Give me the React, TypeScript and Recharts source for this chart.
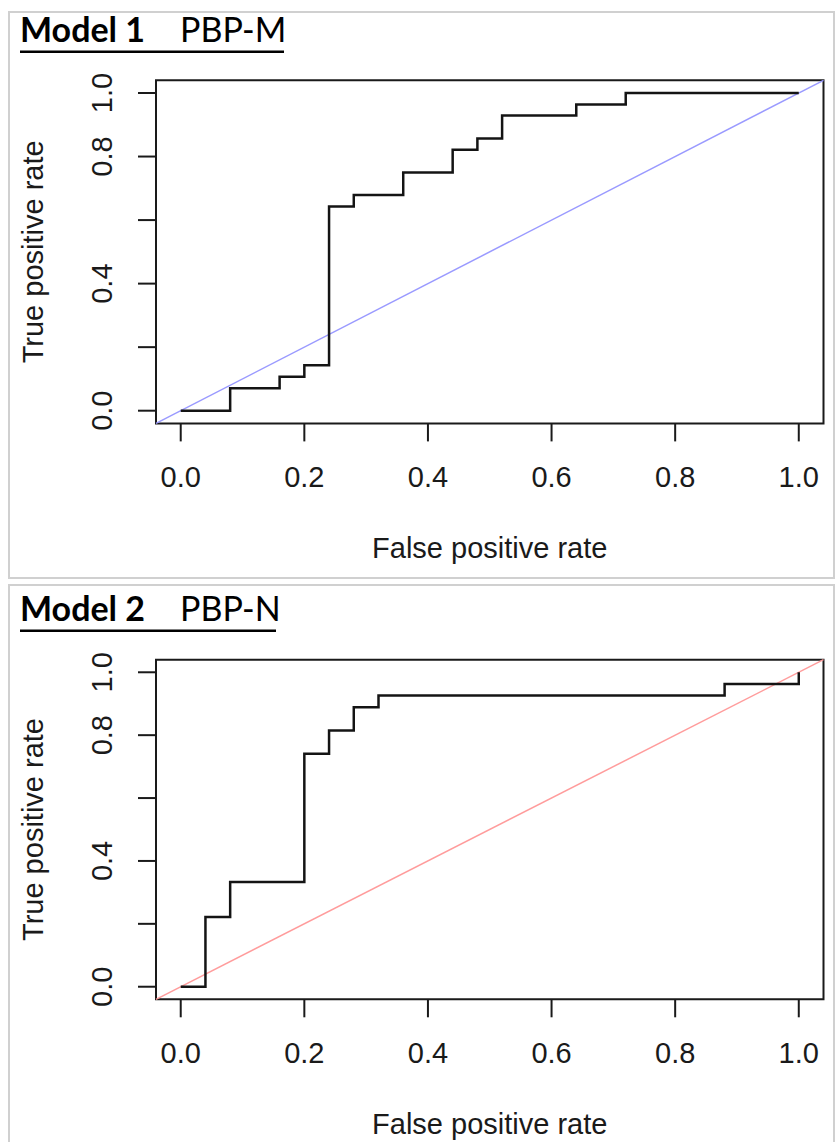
import React from 'react';
import { LineChart, Line, XAxis, YAxis, ReferenceLine, ReferenceArea } from 'recharts';

// ---- data ----
const xTicks = [0, 0.2, 0.4, 0.6, 0.8, 1.0];
const yTicks = [0, 0.2, 0.4, 0.6, 0.8, 1.0];
const yTickLabels = [0, 0.4, 0.8, 1.0];

const model1Fpr = [0, 0.08, 0.16, 0.2, 0.24, 0.28, 0.36, 0.44, 0.48, 0.52, 0.64, 0.72, 1.0];
const model1Tpr = [0, 0.071, 0.107, 0.143, 0.643, 0.679, 0.75, 0.821, 0.857, 0.929, 0.964, 1.0, 1.0];

const model2Fpr = [0, 0.04, 0.08, 0.2, 0.24, 0.28, 0.32, 0.88, 1.0];
const model2Tpr = [0, 0.222, 0.333, 0.741, 0.815, 0.889, 0.926, 0.963, 1.0];

const diagonal = [-0.04, 1.04];

const xTitle = 'False positive rate';
const yTitle = 'True positive rate';

// ---- styles ----
const AXIS_FONT = '"Liberation Sans", Arial, Helvetica, sans-serif';
const TITLE_FONT = 'Lato, "Open Sans", sans-serif';
const DOMAIN: [number, number] = [diagonal[0], diagonal[1]];
const PAGE_W = 835;
const BOX_LEFT = 156;
const BOX_RIGHT = 823.5;

const XTick = (props: any) => {
  const { x, y, payload } = props;
  return (
    <text x={x} y={y + 35.3} textAnchor="middle" dominantBaseline="central"
      fontFamily={AXIS_FONT} fontSize={29} fill="#1a1a1a">
      {Number(payload.value).toFixed(1)}
    </text>
  );
};

const YTick = (props: any) => {
  const { x, y, payload } = props;
  const v = Number(payload.value);
  if (!yTickLabels.some((t) => Math.abs(t - v) < 1e-9)) return <g />;
  const cx = x - 36.3;
  return (
    <text x={cx} y={y} transform={`rotate(-90 ${cx} ${y})`} textAnchor="middle" dominantBaseline="central"
      fontFamily={AXIS_FONT} fontSize={29} fill="#1a1a1a">
      {v.toFixed(1)}
    </text>
  );
};

type PanelProps = {
  panelTop: number;
  panelHeight: number;
  boxTop: number;
  boxBottom: number;
  titleBaseline: number;
  underlineY: number;
  underlineRight: number;
  titleBold: string;
  titleRest: string;
  fpr: number[];
  tpr: number[];
  diagColor: string;
};

function RocPanel(p: PanelProps) {
  const data = p.fpr.map((f, i) => ({ fpr: f, tpr: p.tpr[i] }));
  const chartH = p.panelHeight;
  const xAxisH = p.panelTop + chartH - p.boxBottom;
  const pad = 20; // overlay svg starts above the panel so title ascenders are not clipped
  const boxMidY = (p.boxTop + p.boxBottom) / 2 - p.panelTop + pad;
  const xTitleBaseline = p.boxBottom + 134.6 - p.panelTop + pad;
  return (
    <>
      <div style={{
        position: 'absolute', left: 8, top: p.panelTop, width: 827, height: p.panelHeight,
        border: '2px solid #d0d0d0', boxSizing: 'border-box', background: '#fff',
      }} />
      <div style={{ position: 'absolute', left: 0, top: p.panelTop, width: PAGE_W, height: chartH }}>
        <LineChart width={PAGE_W} height={chartH} data={data}
          margin={{ top: p.boxTop - p.panelTop, right: PAGE_W - BOX_RIGHT, left: 0, bottom: 0 }}>
          <XAxis dataKey="fpr" type="number" domain={DOMAIN} allowDataOverflow ticks={xTicks} interval={0}
            height={xAxisH} axisLine={false} tickSize={18} tickMargin={0}
            tickLine={{ stroke: '#1a1a1a', strokeWidth: 2 }} tick={(props: any) => <XTick {...props} />} />
          <YAxis type="number" domain={DOMAIN} allowDataOverflow ticks={yTicks} interval={0}
            width={BOX_LEFT} axisLine={false} tickSize={18} tickMargin={0}
            tickLine={{ stroke: '#1a1a1a', strokeWidth: 2 }} tick={(props: any) => <YTick {...props} />} />
          <ReferenceArea x1={diagonal[0]} x2={diagonal[1]} y1={diagonal[0]} y2={diagonal[1]}
            fill="none" fillOpacity={0} stroke="#1a1a1a" strokeWidth={2} ifOverflow="visible" />
          <ReferenceLine segment={[{ x: diagonal[0], y: diagonal[0] }, { x: diagonal[1], y: diagonal[1] }]}
            stroke={p.diagColor} strokeWidth={1.5} ifOverflow="visible" />
          <Line dataKey="tpr" type="stepAfter" stroke="#141414" strokeWidth={2.5} dot={false}
            isAnimationActive={false} />
        </LineChart>
      </div>
      <svg style={{ position: 'absolute', left: 0, top: p.panelTop - pad, pointerEvents: 'none' }}
        width={PAGE_W} height={chartH + pad}>
        <text x={20} y={p.titleBaseline + pad} fontFamily={TITLE_FONT} fontWeight={700} fontSize={34} fill="#000">
          {p.titleBold}
        </text>
        <text x={180} y={p.titleBaseline + pad} fontFamily={TITLE_FONT} fontWeight={400} fontSize={34} fill="#000">
          {p.titleRest}
        </text>
        <line x1={20} x2={p.underlineRight} y1={p.underlineY + pad} y2={p.underlineY + pad} stroke="#000" strokeWidth={2.5} />
        <text x={(BOX_LEFT + BOX_RIGHT) / 2} y={xTitleBaseline} textAnchor="middle"
          fontFamily={AXIS_FONT} fontSize={29} fill="#1a1a1a">{xTitle}</text>
        <text transform={`translate(33 ${boxMidY}) rotate(-90)`} textAnchor="middle" dominantBaseline="central"
          fontFamily={AXIS_FONT} fontSize={29} fill="#1a1a1a">{yTitle}</text>
      </svg>
    </>
  );
}

export default function App() {
  return (
    <div style={{ position: 'absolute', left: 0, top: 0, width: PAGE_W, height: 1142, overflow: 'hidden', background: '#fff' }}>
      <RocPanel panelTop={11} panelHeight={567.5} boxTop={80.3} boxBottom={423.4}
        titleBaseline={31.3} underlineY={40.7} underlineRight={284}
        titleBold="Model 1" titleRest="PBP-M" fpr={model1Fpr} tpr={model1Tpr} diagColor="#9a9aff" />
      <RocPanel panelTop={584} panelHeight={570} boxTop={659.7} boxBottom={999.3}
        titleBaseline={37.3} underlineY={46.7} underlineRight={276}
        titleBold="Model 2" titleRest="PBP-N" fpr={model2Fpr} tpr={model2Tpr} diagColor="#ff9c9c" />
    </div>
  );
}
